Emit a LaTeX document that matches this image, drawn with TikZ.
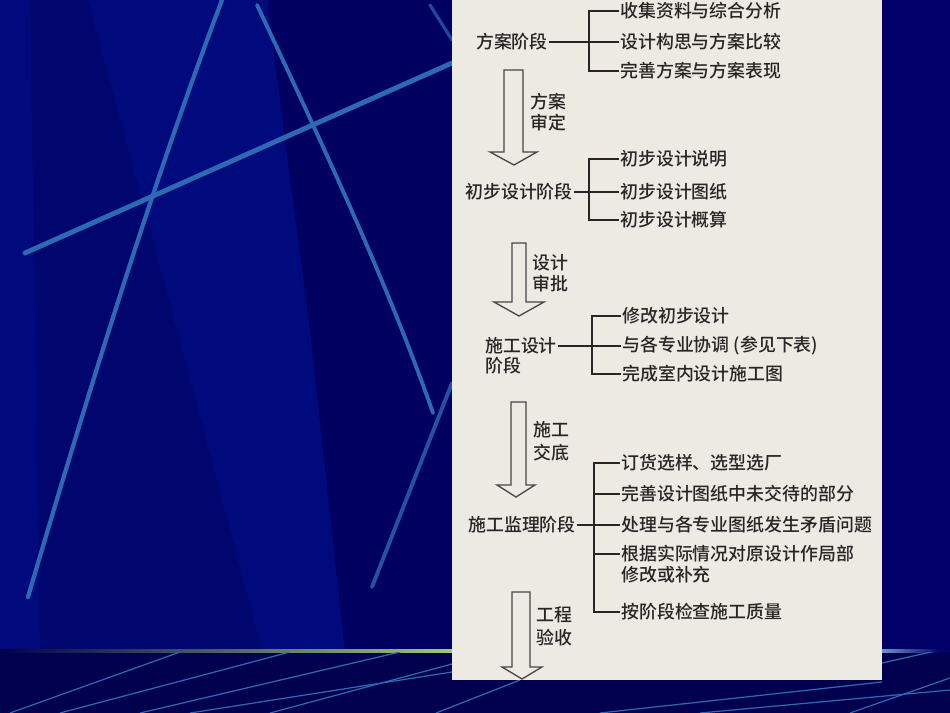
\documentclass[tikz,border=0pt]{standalone}
\usepackage{fontspec}
\newfontfamily\cjk{Noto Sans CJK SC}[UprightFont={* Medium}]
\definecolor{paper}{HTML}{ECEAE2}
\definecolor{ink}{HTML}{262626}
\definecolor{navymid}{HTML}{00066E}
\definecolor{navylight}{HTML}{000A7C}
\definecolor{navydark}{HTML}{000060}
\definecolor{navydeep}{HTML}{00004E}
\definecolor{navyright}{HTML}{000068}
\definecolor{streakblue}{HTML}{2C6AB4}
\definecolor{lime}{HTML}{9DCB72}

\begin{document}
\begin{tikzpicture}[x=0.02cm,y=-0.02cm,
  txt/.style={font=\cjk\fontsize{10.2pt}{11.9pt}\selectfont, text=ink, inner sep=0.5pt},
  link/.style={draw=ink, line width=0.8pt},
  hollow/.style={draw=ink!85, line width=0.75pt, fill=paper, line join=miter},
  streak/.style={draw=streakblue, line cap=round}]
\useasboundingbox (0,0) rectangle (950,713);

% 背景:深蓝底与斜向光带
\fill[navymid] (0,0) rectangle (950,713);
\fill[navylight] (0,0) -- (30,0) -- (40,650) -- (0,650) -- cycle;
\fill[navylight] (88,0) -- (267,0) -- (310,330) -- (345,650) -- (262,650) -- (177,330) -- cycle;
\fill[navydark] (267,0) -- (452,0) -- (452,650) -- (345,650) -- (310,330) -- cycle;
\fill[navyright] (882,0) rectangle (950,650);

\draw[streak, line width=2.4pt] (222,0) .. controls (150,190) and (80,420) .. (28,597);
\draw[streak, line width=2.8pt] (25,253) -- (452,63);
\draw[streak, line width=2.2pt] (257,5) .. controls (330,160) and (390,290) .. (433,413);
\draw[streak, line width=2.2pt, opacity=.8] (452,383) -- (372,587);
\draw[streak, line width=1.8pt, opacity=.7] (430,5) -- (452,40);

% 底部条带
\fill[navydeep] (0,652) rectangle (950,713);
\shade[left color=navydeep, right color=lime] (0,649) rectangle (452,652);
\shade[left color=streakblue!70, right color=navyright] (882,649) rectangle (940,652);
\begin{scope}
\clip (0,652) rectangle (950,713);
\foreach \a/\b/\c/\d in {10/713/180/652, 60/713/290/652, 140/713/400/652,
    190/713/452/672, 270/713/452/664, 436/713/520/680, 600/713/882/682,
    700/713/950/690, 850/713/950/678, 882/663/940/650}
    \draw[streakblue, line width=0.7pt] (\a,\b) -- (\c,\d);
\end{scope}

% 纸面
\fill[paper] (452,0) rectangle (882,680);

% 方案阶段
\node[txt, anchor=east] (s1) at (549,42) {方案阶段};
\coordinate (b1) at (589,42);
\node[txt, anchor=west] (i11) at (619,11) {收集资料与综合分析};
\node[txt, anchor=west] (i12) at (619,42) {设计构思与方案比较};
\node[txt, anchor=west] (i13) at (619,71) {完善方案与方案表现};
\draw[link] (s1) -- (b1);
\foreach \i in {i11,i12,i13}
    \draw[link] (\i.west) -| (b1);

% 初步设计阶段
\node[txt, anchor=east] (s2) at (574,192) {初步设计阶段};
\coordinate (b2) at (589,192);
\node[txt, anchor=west] (i21) at (619,159) {初步设计说明};
\node[txt, anchor=west] (i22) at (619,192) {初步设计图纸};
\node[txt, anchor=west] (i23) at (619,220) {初步设计概算};
\draw[link] (s2) -- (b2);
\foreach \i in {i21,i22,i23}
    \draw[link] (\i.west) -| (b2);

% 施工设计阶段
\node[txt, anchor=west] (s3) at (484,346) {施工设计};
\node[txt, anchor=west] (s3b) at (484,366) {阶段};
\coordinate (b3) at (592,346);
\node[txt, anchor=west] (i31) at (621,316) {修改初步设计};
\node[txt, anchor=west] (i32) at (621,346) {与各专业协调 (参见下表)};
\node[txt, anchor=west] (i33) at (621,374) {完成室内设计施工图};
\draw[link] (s3) -- (b3);
\foreach \i in {i31,i32,i33}
    \draw[link] (\i.west) -| (b3);

% 施工监理阶段
\node[txt, anchor=east] (s4) at (577,525) {施工监理阶段};
\coordinate (b4) at (594,525);
\node[txt, anchor=west] (i41) at (620,463) {订货选样、选型选厂};
\node[txt, anchor=west] (i42) at (620,494) {完善设计图纸中未交待的部分};
\node[txt, anchor=west] (i43) at (620,525) {处理与各专业图纸发生矛盾问题};
\node[txt, anchor=west] (i44) at (620,554) {根据实际情况对原设计作局部};
\node[txt, anchor=west] (i44b) at (620,575) {修改或补充};
\node[txt, anchor=west] (i45) at (620,612) {按阶段检查施工质量};
\draw[link] (s4) -- (b4);
\foreach \i in {i41,i42,i43,i44,i45}
    \draw[link] (\i.west) -| (b4);

% 空心箭头与说明
\foreach \xl/\xr/\yt/\yb/\hl/\hr/\tx/\ty in {504/523/70/152/490/537/514/165,
    512/526/243/302/494/544/519/316, 511/526/402/485/497/535/516/497,
    512/530/592/667/502/542/522/679}
    \draw[hollow] (\xl,\yt) -- (\xl,\yb) -- (\hl,\yb) -- (\tx,\ty) -- (\hr,\yb) -- (\xr,\yb) -- (\xr,\yt) -- cycle;
\node[txt, anchor=west, align=left] (l1) at (529,112.5) {方案\\审定};
\node[txt, anchor=west, align=left] (l2) at (531,273) {设计\\审批};
\node[txt, anchor=west, align=left] (l3) at (532,441.5) {施工\\[1pt]交底};
\node[txt, anchor=west, align=left] (l4) at (535,626.5) {工程\\[1pt]验收};
\end{tikzpicture}
\end{document}
